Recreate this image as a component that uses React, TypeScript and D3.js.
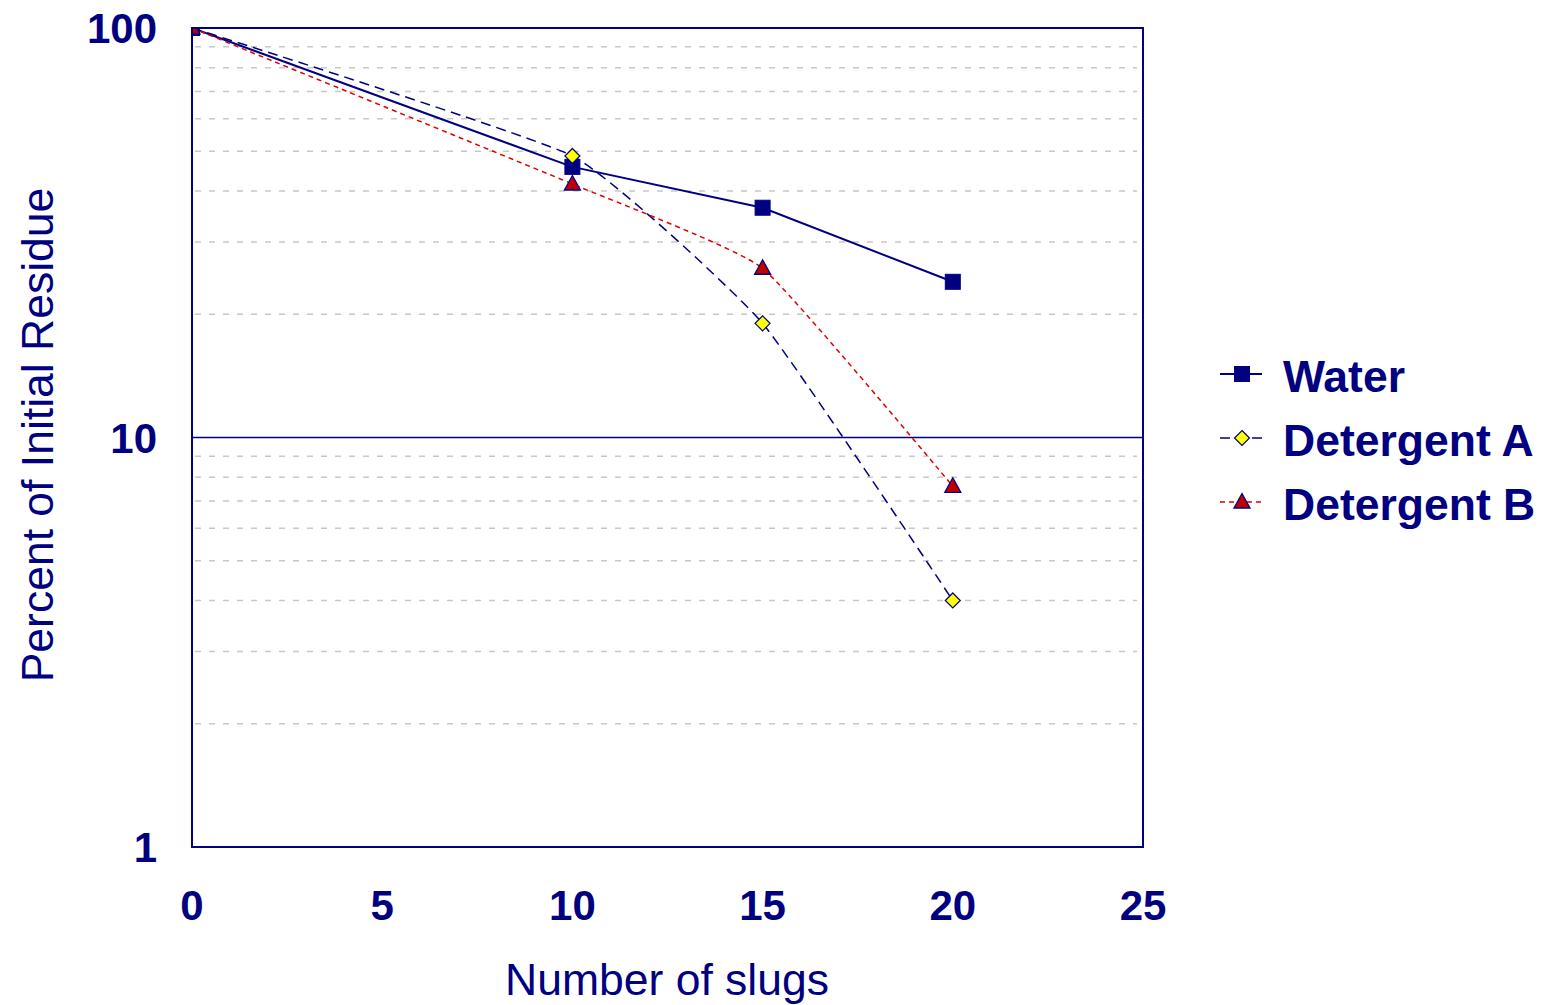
import React from "react";
import * as d3 from "d3";

const SLUGS = [0, 10, 15, 20];
const WATER = [100, 45.8, 36.4, 24.0];
const DET_A = [100, 48.7, 19.0, 4.0];
const DET_B = [100, 41.6, 25.9, 7.6];
const X_TICKS = [0, 5, 10, 15, 20, 25];
const Y_TICKS = [1, 10, 100];

const NAVY = "#000080";
const W = 1543, H = 1005;
const M = { left: 192, right: 1143, top: 28, bottom: 847 };

const x = d3.scaleLinear().domain([0, 25]).range([M.left, M.right]);
const y = d3.scaleLog().domain([1, 100]).range([M.bottom, M.top]);

const SERIES = [
  { name: "Water", values: WATER, stroke: NAVY, width: 2, dash: "none", curve: d3.curveLinear, marker: "square" },
  { name: "Detergent A", values: DET_A, stroke: NAVY, width: 1.5, dash: "10 6", curve: d3.curveCardinal.tension(0.6), marker: "diamond" },
  { name: "Detergent B", values: DET_B, stroke: "#e00000", width: 1.5, dash: "5 4", curve: d3.curveCardinal.tension(0.6), marker: "triangle" },
];

function Marker({ kind, cx, cy }: { kind: string; cx: number; cy: number }) {
  if (kind === "square")
    return <rect x={cx - 7.5} y={cy - 7.5} width={15} height={15} fill={NAVY} stroke={NAVY} strokeWidth={1} />;
  if (kind === "diamond")
    return <path d={`M${cx},${cy - 7.5}L${cx + 7.5},${cy}L${cx},${cy + 7.5}L${cx - 7.5},${cy}Z`} fill="#ffff00" stroke={NAVY} strokeWidth={1.2} />;
  return <path d={`M${cx},${cy - 8.5}L${cx + 8},${cy + 6}L${cx - 8},${cy + 6}Z`} fill="#c00000" stroke={NAVY} strokeWidth={1.3} />;
}

export default function App() {
  const minor = y.ticks().filter(v => !Y_TICKS.includes(v));
  const font = "'Liberation Sans', Arial, sans-serif";

  return (
    <div style={{ position: "absolute", left: 0, top: 0 }}>
      <svg width={W} height={H} style={{ display: "block", background: "#fff" }} fontFamily={font}>
        <defs>
          <clipPath id="plot">
            <rect x={M.left} y={M.top} width={M.right - M.left} height={M.bottom - M.top} />
          </clipPath>
        </defs>

        {/* minor gridlines */}
        {minor.map(v => (
          <line key={v} x1={M.left + 3} x2={M.right - 6} y1={y(v)} y2={y(v)}
            stroke="#c8c8c8" strokeWidth={1.5} strokeDasharray="6 8" />
        ))}
        {/* major gridline at 10 */}
        <line x1={M.left} x2={M.right} y1={y(10)} y2={y(10)} stroke={NAVY} strokeWidth={1.5} />

        {/* series */}
        <g clipPath="url(#plot)">
          {SERIES.map(s => {
            const pts: [number, number][] = SLUGS.map((d, i) => [x(d), y(s.values[i])]);
            const line = d3.line().curve(s.curve as any)(pts) || "";
            return (
              <path key={s.name} d={line} fill="none" stroke={s.stroke}
                strokeWidth={s.width} strokeDasharray={s.dash} />
            );
          })}
          {SERIES.map(s =>
            SLUGS.map((d, i) => (
              <Marker key={s.name + i} kind={s.marker} cx={x(d)} cy={y(s.values[i])} />
            ))
          )}
        </g>

        {/* plot border */}
        <rect x={M.left} y={M.top} width={M.right - M.left} height={M.bottom - M.top}
          fill="none" stroke={NAVY} strokeWidth={2} />

        {/* x tick labels */}
        {X_TICKS.map(t => (
          <text key={t} x={x(t)} y={920} textAnchor="middle" fontSize={42} fontWeight="bold" fill={NAVY}>{t}</text>
        ))}
        {/* y tick labels */}
        {Y_TICKS.map(t => (
          <text key={t} x={157} y={y(t) + 15} textAnchor="end" fontSize={42} fontWeight="bold" fill={NAVY}>{t}</text>
        ))}

        {/* axis titles */}
        <text x={667} y={995} textAnchor="middle" fontSize={44.5} fill={NAVY}>Number of slugs</text>
        <text x={53} y={435} textAnchor="middle" fontSize={44.5} fill={NAVY}
          transform="rotate(-90, 53, 435)">Percent of Initial Residue</text>

        {/* legend */}
        {SERIES.map((s, i) => {
          const cy = 374 + i * 64;
          return (
            <g key={s.name}>
              <line x1={1220} x2={1262} y1={cy} y2={cy} stroke={s.stroke} strokeWidth={s.width}
                strokeDasharray={s.dash} />
              <Marker kind={s.marker} cx={1242} cy={cy} />
              <text x={1283} y={cy + 18} fontSize={44.5} fontWeight="bold" fill={NAVY}>{s.name}</text>
            </g>
          );
        })}
      </svg>
    </div>
  );
}
